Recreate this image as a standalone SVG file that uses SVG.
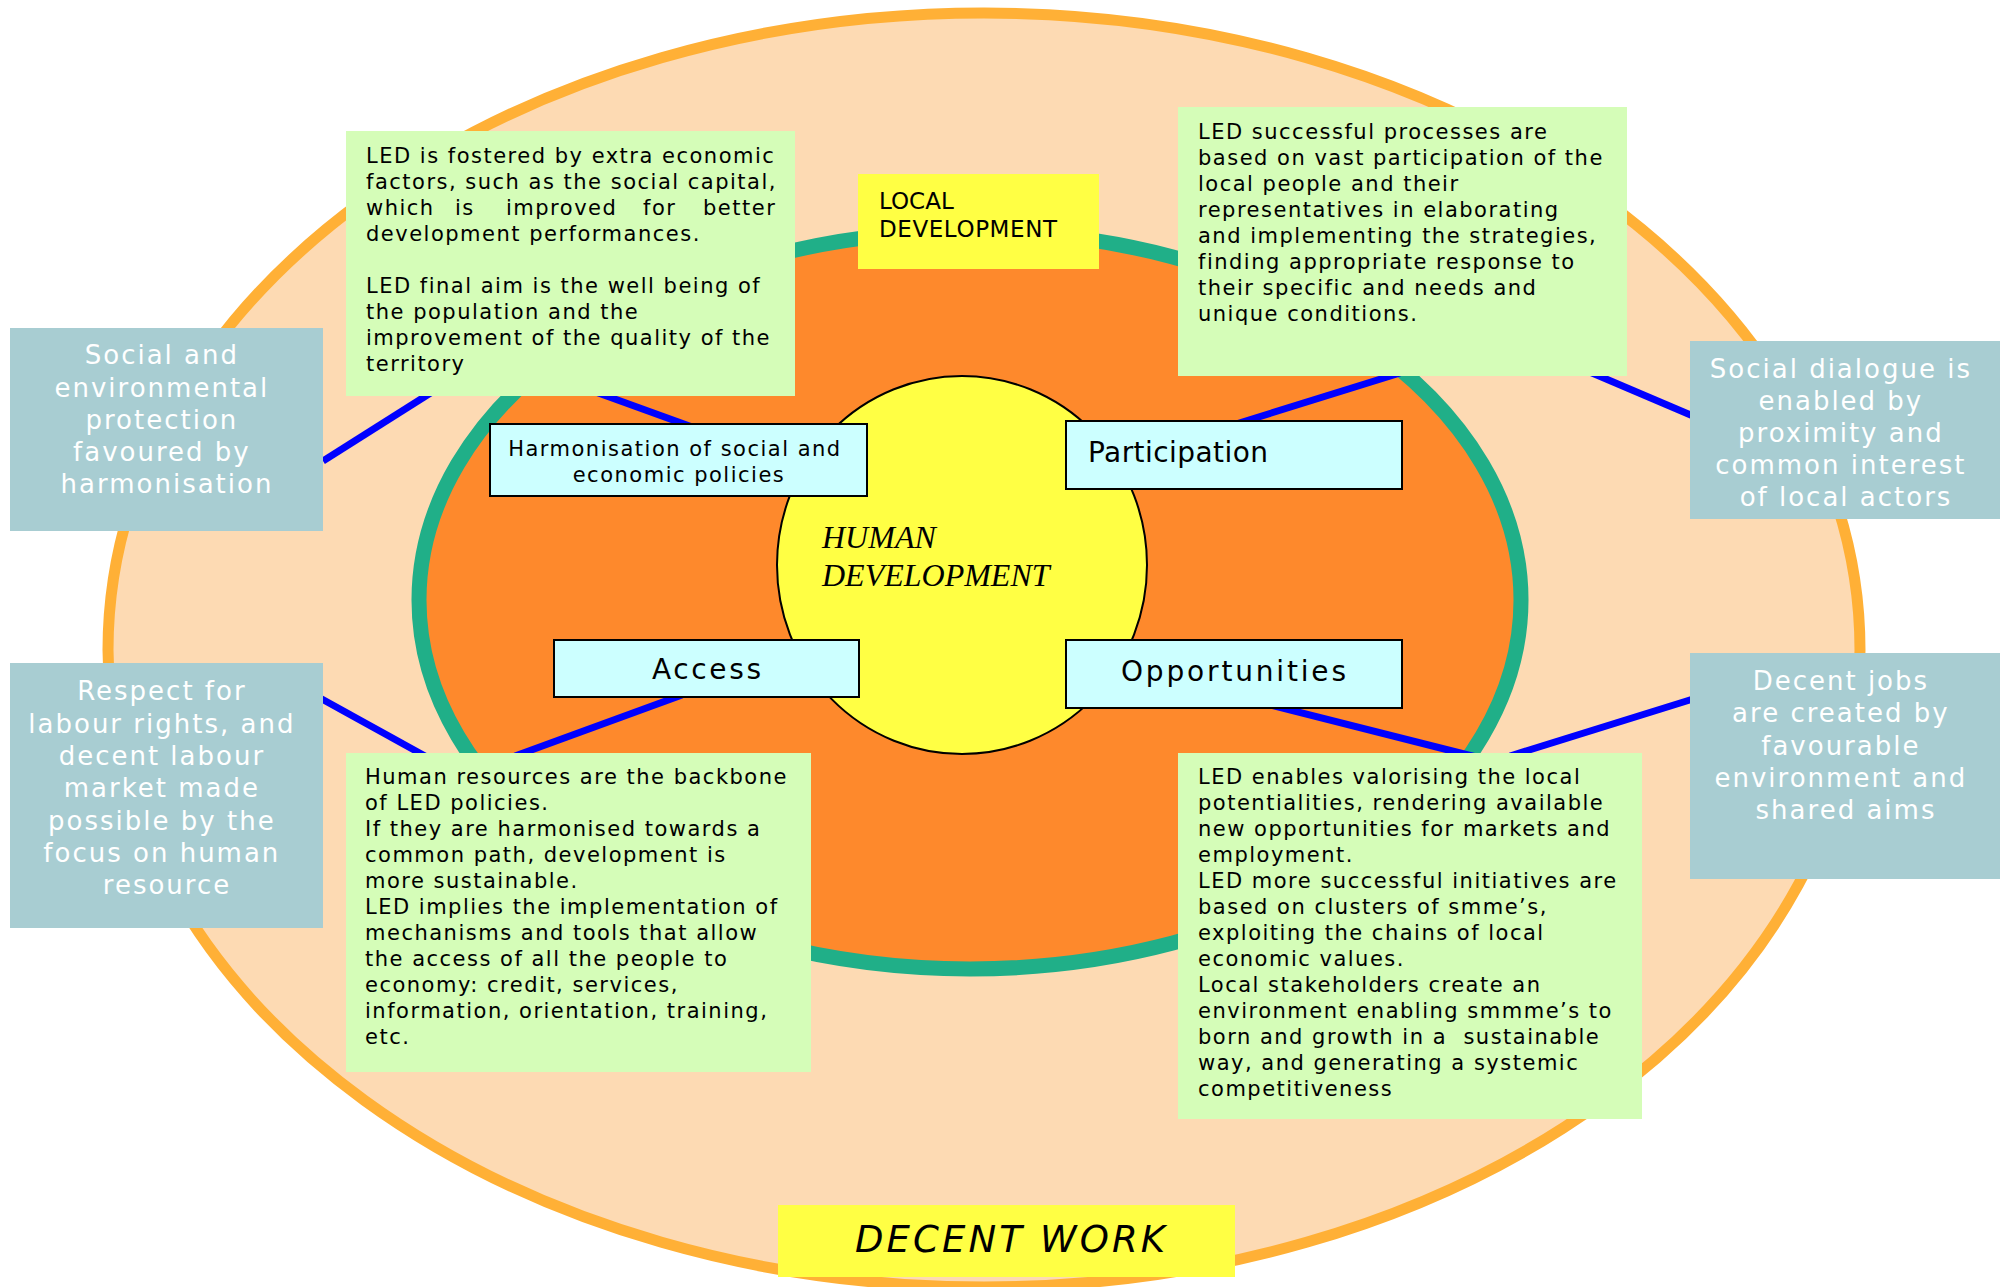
<svg xmlns="http://www.w3.org/2000/svg" width="2000" height="1287" viewBox="0 0 2000 1287">
  <style>
    .note { fill: #D5FDB8; }
    .side { fill: #A8CDD2; }
    .tag { fill: #FFFF44; }
    .label { fill: #CCFFFF; stroke: #000; stroke-width: 2; }
    .para { font-family: "DejaVu Sans", Verdana, sans-serif; font-size: 21px; letter-spacing: 1.5px; fill: #000; }
    .sidetext { font-family: "DejaVu Sans", Verdana, sans-serif; font-size: 26px; letter-spacing: 2px; fill: #FFFFFF; text-anchor: middle; }
    .lbl { font-family: "DejaVu Sans", Verdana, sans-serif; font-size: 28px; fill: #000; }
    .link { stroke: #0000FF; stroke-width: 7; fill: none; }
  </style>

  <!-- outer ring: decent work -->
  <ellipse id="ring-decent-work" cx="984" cy="650" rx="876" ry="637" fill="#FDDAB3" stroke="#FFB036" stroke-width="11"/>
  <!-- middle ring: local development -->
  <ellipse id="ring-local-development" cx="970" cy="600" rx="551" ry="369" fill="#FE892C" stroke="#20AF88" stroke-width="15"/>

  <!-- connectors -->
  <g id="connectors">
    <line class="link" x1="323" y1="461" x2="440" y2="387"/>
    <line class="link" x1="590" y1="390" x2="695" y2="428"/>
    <line class="link" x1="1236" y1="424" x2="1400" y2="373"/>
    <line class="link" x1="1585" y1="370" x2="1693" y2="416"/>
    <line class="link" x1="320" y1="698" x2="425" y2="756"/>
    <line class="link" x1="682" y1="695" x2="515" y2="756"/>
    <line class="link" x1="1270" y1="705" x2="1480" y2="758"/>
    <line class="link" x1="1693" y1="699" x2="1510" y2="756"/>
  </g>

  <!-- core: human development -->
  <g id="human-development">
    <ellipse cx="962" cy="565" rx="185" ry="189" fill="#FFFF44" stroke="#000" stroke-width="2"/>
    <text font-family="'Liberation Serif', 'Times New Roman', serif" font-style="italic" font-size="32" fill="#000">
      <tspan x="822" y="548">HUMAN</tspan>
      <tspan x="822" y="586">DEVELOPMENT</tspan>
    </text>
  </g>

  <g id="local-development-tag">
    <rect class="tag" x="858" y="174" width="241" height="95"/>
    <text font-family="'DejaVu Sans', Verdana, sans-serif" font-size="23" fill="#000">
      <tspan x="879" y="209">LOCAL</tspan>
      <tspan x="879" y="237" textLength="178">DEVELOPMENT</tspan>
    </text>
  </g>

  <g id="decent-work-tag">
    <rect class="tag" x="778" y="1205" width="457" height="72"/>
    <text x="855" y="1252" font-family="'DejaVu Sans', Verdana, sans-serif" font-style="italic" font-size="37" fill="#000" textLength="310">DECENT WORK</text>
  </g>

  <!-- pillar labels -->
  <g id="label-harmonisation">
    <rect class="label" x="490" y="424" width="377" height="72"/>
    <text class="para" text-anchor="middle">
      <tspan x="679" y="456">Harmonisation of social and</tspan>
      <tspan x="679" y="482">economic policies</tspan>
    </text>
  </g>
  <g id="label-participation">
    <rect class="label" x="1066" y="421" width="336" height="68"/>
    <text class="lbl" x="1088" y="462" textLength="180">Participation</text>
  </g>
  <g id="label-access">
    <rect class="label" x="554" y="640" width="305" height="57"/>
    <text class="lbl" x="652" y="679" textLength="109">Access</text>
  </g>
  <g id="label-opportunities">
    <rect class="label" x="1066" y="640" width="336" height="68"/>
    <text class="lbl" x="1121" y="681" textLength="225">Opportunities</text>
  </g>

  <!-- explanatory notes -->
  <g id="note-social-capital">
    <rect class="note" x="346" y="131" width="449" height="265"/>
    <text class="para">
      <tspan x="366" y="163">LED is fostered by extra economic</tspan>
      <tspan x="366" y="189">factors, such as the social capital,</tspan>
      <tspan x="366" y="215">which</tspan><tspan x="455" y="215">is</tspan><tspan x="506" y="215">improved</tspan><tspan x="643" y="215">for</tspan><tspan x="703" y="215">better</tspan>
      <tspan x="366" y="241">development performances.</tspan>
      <tspan x="366" y="293">LED final aim is the well being of</tspan>
      <tspan x="366" y="319">the population and the</tspan>
      <tspan x="366" y="345">improvement of the quality of the</tspan>
      <tspan x="366" y="371">territory</tspan>
    </text>
  </g>

  <g id="note-participation">
    <rect class="note" x="1178" y="107" width="449" height="269"/>
    <text class="para">
      <tspan x="1198" y="139">LED successful processes are</tspan>
      <tspan x="1198" y="165">based on vast participation of the</tspan>
      <tspan x="1198" y="191">local people and their</tspan>
      <tspan x="1198" y="217">representatives in elaborating</tspan>
      <tspan x="1198" y="243">and implementing the strategies,</tspan>
      <tspan x="1198" y="269">finding appropriate response to</tspan>
      <tspan x="1198" y="295">their specific and needs and</tspan>
      <tspan x="1198" y="321">unique conditions.</tspan>
    </text>
  </g>

  <g id="note-human-resources">
    <rect class="note" x="346" y="753" width="465" height="319"/>
    <text class="para">
      <tspan x="365" y="784">Human resources are the backbone</tspan>
      <tspan x="365" y="810">of LED policies.</tspan>
      <tspan x="365" y="836">If they are harmonised towards a</tspan>
      <tspan x="365" y="862">common path, development is</tspan>
      <tspan x="365" y="888">more sustainable.</tspan>
      <tspan x="365" y="914">LED implies the implementation of</tspan>
      <tspan x="365" y="940">mechanisms and tools that allow</tspan>
      <tspan x="365" y="966">the access of all the people to</tspan>
      <tspan x="365" y="992">economy: credit, services,</tspan>
      <tspan x="365" y="1018">information, orientation, training,</tspan>
      <tspan x="365" y="1044">etc.</tspan>
    </text>
  </g>

  <g id="note-opportunities">
    <rect class="note" x="1178" y="753" width="464" height="366"/>
    <text class="para">
      <tspan x="1198" y="784">LED enables valorising the local</tspan>
      <tspan x="1198" y="810">potentialities, rendering available</tspan>
      <tspan x="1198" y="836">new opportunities for markets and</tspan>
      <tspan x="1198" y="862">employment.</tspan>
      <tspan x="1198" y="888">LED more successful initiatives are</tspan>
      <tspan x="1198" y="914">based on clusters of smme’s,</tspan>
      <tspan x="1198" y="940">exploiting the chains of local</tspan>
      <tspan x="1198" y="966">economic values.</tspan>
      <tspan x="1198" y="992">Local stakeholders create an</tspan>
      <tspan x="1198" y="1018">environment enabling smmme’s to</tspan>
      <tspan x="1198" y="1044">born and growth in a&#160; sustainable</tspan>
      <tspan x="1198" y="1070">way, and generating a systemic</tspan>
      <tspan x="1198" y="1096">competitiveness</tspan>
    </text>
  </g>

  <!-- decent work outcomes -->
  <g id="outcome-protection">
    <rect class="side" x="10" y="328" width="313" height="203"/>
    <text class="sidetext">
      <tspan x="167" y="364">Social and</tspan>
      <tspan x="167" y="397">environmental</tspan>
      <tspan x="167" y="429">protection</tspan>
      <tspan x="167" y="461">favoured by</tspan>
      <tspan x="167" y="493">harmonisation</tspan>
    </text>
  </g>

  <g id="outcome-labour-rights">
    <rect class="side" x="10" y="663" width="313" height="265"/>
    <text class="sidetext">
      <tspan x="167" y="700">Respect for</tspan>
      <tspan x="167" y="733">labour rights, and</tspan>
      <tspan x="167" y="765">decent labour</tspan>
      <tspan x="167" y="797">market made</tspan>
      <tspan x="167" y="830">possible by the</tspan>
      <tspan x="167" y="862">focus on human</tspan>
      <tspan x="167" y="894">resource</tspan>
    </text>
  </g>

  <g id="outcome-social-dialogue">
    <rect class="side" x="1690" y="341" width="310" height="178"/>
    <text class="sidetext">
      <tspan x="1846" y="378">Social dialogue is</tspan>
      <tspan x="1846" y="410">enabled by</tspan>
      <tspan x="1846" y="442">proximity and</tspan>
      <tspan x="1846" y="474">common interest</tspan>
      <tspan x="1846" y="506">of local actors</tspan>
    </text>
  </g>

  <g id="outcome-decent-jobs">
    <rect class="side" x="1690" y="653" width="310" height="226"/>
    <text class="sidetext">
      <tspan x="1846" y="690">Decent jobs</tspan>
      <tspan x="1846" y="722">are created by</tspan>
      <tspan x="1846" y="755">favourable</tspan>
      <tspan x="1846" y="787">environment and</tspan>
      <tspan x="1846" y="819">shared aims</tspan>
    </text>
  </g>
</svg>
